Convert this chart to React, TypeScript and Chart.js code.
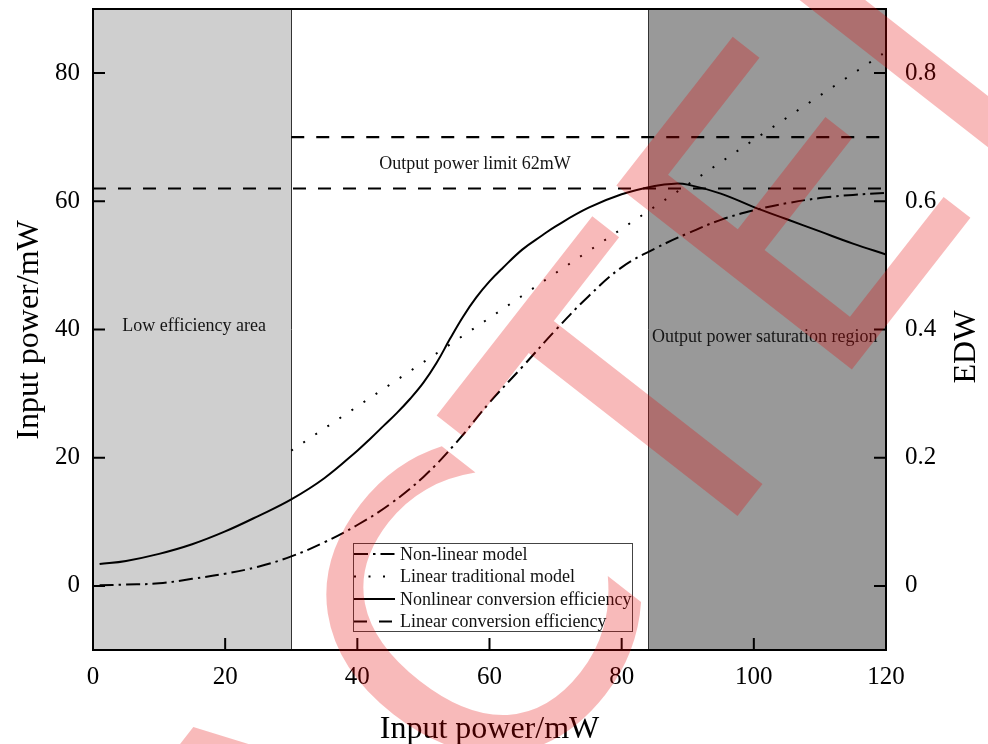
import React, { useEffect, useRef } from 'react';
import { Chart, registerables } from 'chart.js';

Chart.register(...registerables);

// Axis ranges and tick values
const xRange = [0, 120];
const yRange = [-10, 90];
const edwRange = [-0.1, 0.9];
const xTickValues = [0, 20, 40, 60, 80, 100, 120];
const yTickValues = [0, 20, 40, 60, 80];
const edwTickValues = [0, 0.2, 0.4, 0.6, 0.8];

// Shaded operating regions (input power, mW)
const lowEfficiencyRange = [0, 30];
const saturationRange = [84, 120];

// Non-linear model (dash-dot)
const nonLinearX = [1, 5, 10, 15, 20, 25, 30, 35, 40, 45, 50, 55, 60, 65, 70, 75, 80, 85, 90, 95, 100, 105, 110, 115, 120];
const nonLinearY = [0.1, 0.2, 0.4, 1.1, 1.9, 3.0, 4.6, 6.8, 9.5, 12.8, 17.0, 22.4, 28.6, 34.2, 39.9, 45.2, 49.7, 52.6, 55.0, 57.1, 58.6, 59.7, 60.5, 61.0, 61.3];

// Linear traditional model (dotted)
const linearModelX = [30, 40, 50, 60, 70, 80, 90, 100, 110, 119.5];
const linearModelY = [21.1, 28.0, 34.9, 41.8, 48.8, 55.7, 62.6, 69.6, 76.5, 83.0];

// Nonlinear conversion efficiency (solid)
const nonlinearEffX = [1, 5, 10, 15, 20, 25, 30, 35, 40, 42, 44, 46, 48, 50, 52, 54, 56, 58, 60, 62, 65, 68, 70, 75, 80, 85, 88, 90, 95, 100, 105, 110, 115, 120];
const nonlinearEffY = [3.4, 3.9, 5.0, 6.5, 8.5, 10.9, 13.5, 16.8, 21.1, 23.0, 25.0, 27.0, 29.2, 31.7, 34.8, 38.5, 42.0, 45.0, 47.5, 49.6, 52.5, 54.7, 56.1, 59.0, 61.1, 62.4, 62.75, 62.6, 61.2, 59.1, 57.2, 55.3, 53.4, 51.7];

// Linear conversion efficiency (dashed) and the upper limit line
const linearEffX = [0, 120];
const linearEffY = [62, 62];
const upperLimitX = [30, 120];
const upperLimitY = [70, 70];

const seriesLabels = [
  'Non-linear model',
  'Linear traditional model',
  'Nonlinear conversion efficiency',
  'Linear conversion efficiency',
];

const regionLabels = {
  low: 'Low efficiency area',
  limit: 'Output power limit 62mW',
  saturation: 'Output power saturation region',
};

const axisTitleX = 'Input power/mW';
const axisTitleY = 'Input power/mW';
const axisTitleEdw = 'EDW';
const stampText = 'RETRACTED';

const SERIF = "'Liberation Serif', 'Times New Roman', serif";

const toPoints = (xs: number[], ys: number[]) => xs.map((x, i) => ({ x, y: ys[i] }));

const decorPlugin = {
  id: 'decor',
  beforeDatasetsDraw(chart: any) {
    const { ctx, chartArea: a, scales } = chart;
    const xs = scales.x;
    ctx.save();
    const l0 = xs.getPixelForValue(lowEfficiencyRange[0]);
    const l1 = xs.getPixelForValue(lowEfficiencyRange[1]);
    const s0 = xs.getPixelForValue(saturationRange[0]);
    const s1 = xs.getPixelForValue(saturationRange[1]);
    ctx.fillStyle = '#cfcfcf';
    ctx.fillRect(l0, a.top, l1 - l0, a.bottom - a.top);
    ctx.fillStyle = '#999999';
    ctx.fillRect(s0, a.top, s1 - s0, a.bottom - a.top);
    ctx.strokeStyle = '#333333';
    ctx.lineWidth = 1;
    [l1, s0].forEach((px) => {
      ctx.beginPath();
      ctx.moveTo(Math.round(px) + 0.5, a.top);
      ctx.lineTo(Math.round(px) + 0.5, a.bottom);
      ctx.stroke();
    });
    ctx.restore();
  },
  afterDatasetsDraw(chart: any) {
    const { ctx, chartArea: a, scales } = chart;
    const xs = scales.x;
    const ys = scales.y;
    const es = scales.y2;
    ctx.save();

    // region captions
    ctx.fillStyle = '#151515';
    ctx.font = `18px ${SERIF}`;
    ctx.textBaseline = 'middle';
    ctx.textAlign = 'center';
    ctx.fillText(regionLabels.low, xs.getPixelForValue(15.3), ys.getPixelForValue(40.5));
    ctx.fillText(regionLabels.limit, xs.getPixelForValue(57.8), ys.getPixelForValue(65.8));
    ctx.textAlign = 'left';
    ctx.fillText(regionLabels.saturation, xs.getPixelForValue(84.6), ys.getPixelForValue(38.8));

    // frame
    ctx.strokeStyle = '#000';
    ctx.lineWidth = 2;
    ctx.strokeRect(a.left, a.top, a.right - a.left, a.bottom - a.top);

    // inward tick marks
    const tl = 12;
    ctx.beginPath();
    xTickValues.forEach((v) => {
      const px = xs.getPixelForValue(v);
      if (px <= a.left + 1 || px >= a.right - 1) return;
      ctx.moveTo(px, a.bottom);
      ctx.lineTo(px, a.bottom - tl);
    });
    yTickValues.forEach((v) => {
      const py = ys.getPixelForValue(v);
      ctx.moveTo(a.left, py);
      ctx.lineTo(a.left + tl, py);
    });
    edwTickValues.forEach((v) => {
      const py = es.getPixelForValue(v);
      ctx.moveTo(a.right, py);
      ctx.lineTo(a.right - tl, py);
    });
    ctx.stroke();

    // legend
    const bx = a.left + 260;
    const by = a.top + 534;
    const bw = 279;
    const bh = 88;
    ctx.strokeStyle = '#444';
    ctx.lineWidth = 1;
    ctx.strokeRect(bx + 0.5, by + 0.5, bw, bh);
    ctx.font = `18px ${SERIF}`;
    ctx.textAlign = 'left';
    ctx.textBaseline = 'middle';
    const legendSets = chart.data.datasets.filter((d: any) => seriesLabels.includes(d.label));
    legendSets.forEach((d: any, i: number) => {
      const ry = by + 11 + i * 22.5;
      ctx.save();
      ctx.strokeStyle = d.borderColor;
      ctx.lineWidth = d.borderWidth;
      ctx.setLineDash(d.borderDash || []);
      ctx.beginPath();
      ctx.moveTo(bx + 1, ry);
      ctx.lineTo(bx + 42, ry);
      ctx.stroke();
      ctx.restore();
      ctx.fillStyle = '#111';
      ctx.fillText(d.label, bx + 47, ry + 1);
    });
    ctx.restore();
  },
  afterDraw(chart: any) {
    const { ctx, chartArea: a } = chart;
    ctx.save();
    ctx.fillStyle = '#000';
    ctx.font = `32px ${SERIF}`;
    ctx.textAlign = 'center';
    ctx.textBaseline = 'alphabetic';
    ctx.fillText(axisTitleX, (a.left + a.right) / 2, 738);
    ctx.save();
    ctx.translate(38, 330);
    ctx.rotate(-Math.PI / 2);
    ctx.fillText(axisTitleY, 0, 0);
    ctx.restore();
    ctx.save();
    ctx.translate(975, 347);
    ctx.rotate(-Math.PI / 2);
    ctx.fillText(axisTitleEdw, 0, 0);
    ctx.restore();

    // red diagonal stamp across the figure
    ctx.translate(750, 500);
    ctx.rotate((-52 * Math.PI) / 180);
    ctx.font = "410px 'DejaVu Sans', sans-serif";
    ctx.textAlign = 'left';
    ctx.textBaseline = 'alphabetic';
    ctx.fillStyle = 'rgba(228, 0, 0, 0.27)';
    const pre = ctx.measureText('RETRAC').width;
    const tw = ctx.measureText('T').width;
    ctx.fillText(stampText, -(pre + tw / 2), 0);
    ctx.restore();
  },
};

const noPadV = (s: any) => {
  s.paddingTop = 0;
  s.paddingBottom = 0;
};

export default function App() {
  const canvasRef = useRef<HTMLCanvasElement | null>(null);

  useEffect(() => {
    document.body.style.margin = '0';
    const canvas = canvasRef.current;
    if (!canvas) return;

    const tickFont = { family: SERIF, size: 25 };
    const lineBase = { borderColor: '#000', pointRadius: 0, fill: false, tension: 0.4 };

    const chart = new Chart(canvas, {
      type: 'line',
      data: {
        datasets: [
          { ...lineBase, label: seriesLabels[0], data: toPoints(nonLinearX, nonLinearY), borderWidth: 2, borderDash: [14, 5, 2.5, 5] },
          { ...lineBase, label: seriesLabels[1], data: toPoints(linearModelX, linearModelY), borderWidth: 2, borderDash: [2, 12.5], tension: 0 },
          { ...lineBase, label: seriesLabels[2], data: toPoints(nonlinearEffX, nonlinearEffY), borderWidth: 2 },
          { ...lineBase, label: seriesLabels[3], data: toPoints(linearEffX, linearEffY), borderWidth: 2.2, borderDash: [13, 12], tension: 0 },
          { ...lineBase, label: 'limit', data: toPoints(upperLimitX, upperLimitY), borderWidth: 2.2, borderDash: [13, 12], tension: 0 },
        ],
      },
      options: {
        responsive: false,
        animation: false,
        devicePixelRatio: 1,
        layout: { padding: { top: 9, left: 0, right: 0, bottom: 0 } },
        plugins: {
          legend: { display: false },
          tooltip: { enabled: false },
        },
        scales: {
          x: {
            type: 'linear',
            min: xRange[0],
            max: xRange[1],
            grid: { display: false, drawTicks: false },
            border: { display: false },
            afterBuildTicks: (s: any) => {
              s.ticks = xTickValues.map((value) => ({ value }));
            },
            afterFit: (s: any) => {
              s.height = 94;
              s.paddingLeft = 0;
              s.paddingRight = 0;
            },
            ticks: { color: '#000', font: tickFont, padding: 12, maxRotation: 0 },
          },
          y: {
            type: 'linear',
            position: 'left',
            min: yRange[0],
            max: yRange[1],
            grid: { display: false, drawTicks: false },
            border: { display: false },
            afterBuildTicks: (s: any) => {
              s.ticks = yTickValues.map((value) => ({ value }));
            },
            afterFit: (s: any) => {
              s.width = 93;
              noPadV(s);
            },
            ticks: { color: '#000', font: tickFont, padding: 13 },
          },
          y2: {
            type: 'linear',
            position: 'right',
            min: edwRange[0],
            max: edwRange[1],
            grid: { display: false, drawTicks: false },
            border: { display: false },
            afterBuildTicks: (s: any) => {
              s.ticks = edwTickValues.map((value) => ({ value }));
            },
            afterFit: (s: any) => {
              s.width = 102;
              noPadV(s);
            },
            ticks: {
              color: '#000',
              font: tickFont,
              padding: 19,
              callback: (v: any) => (Number(v) === 0 ? '0' : Number(v).toFixed(1)),
            },
          },
        },
      },
      plugins: [decorPlugin],
    } as any);

    return () => chart.destroy();
  }, []);

  return (
    <div style={{ position: 'absolute', left: 0, top: 0, width: 988, height: 744, background: '#fff' }}>
      <canvas ref={canvasRef} width={988} height={744} style={{ display: 'block', width: 988, height: 744 }} />
    </div>
  );
}
